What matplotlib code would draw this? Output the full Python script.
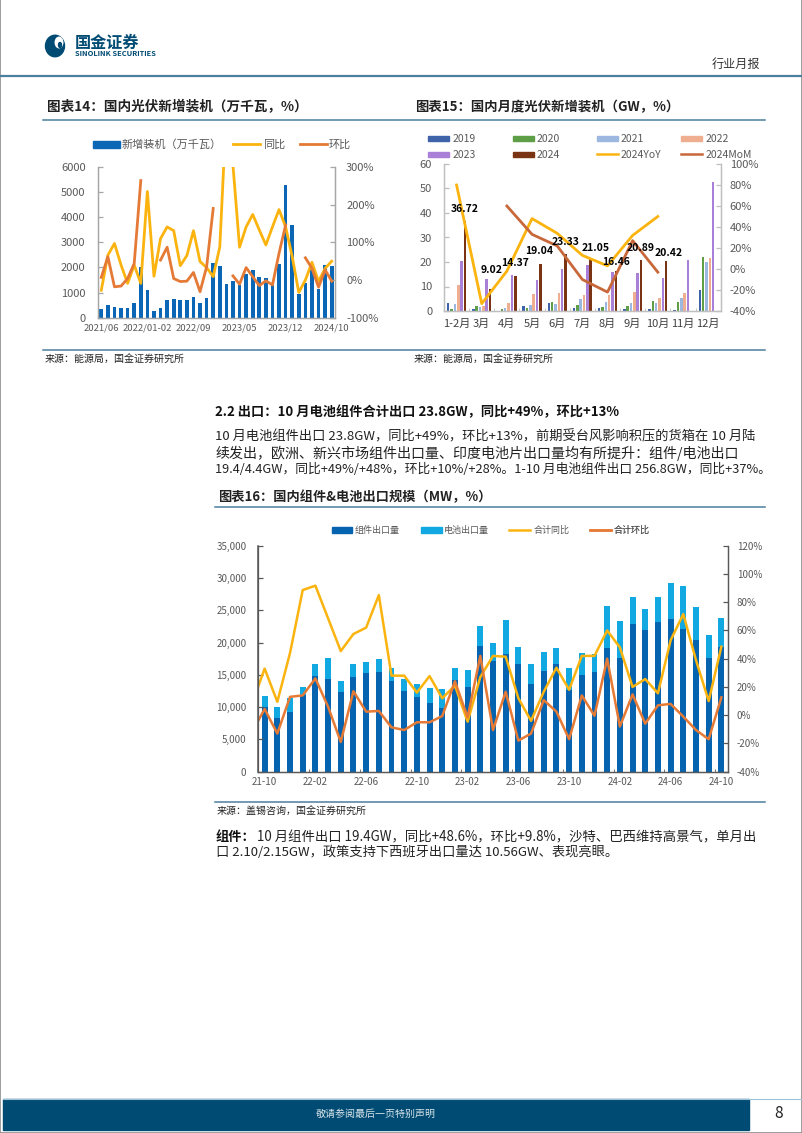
import numpy as np
import matplotlib as mpl; mpl.use('Agg')
import matplotlib.pyplot as plt
from matplotlib.patches import Rectangle, Ellipse, Patch
from matplotlib.lines import Line2D

plt.rcParams['font.family'] = ['Noto Sans CJK SC', 'DejaVu Sans']
plt.rcParams['axes.unicode_minus'] = False

W, H = 802, 1133
nan = np.nan

# 图表14
install_ticks = ['2021/06', '2022/01-02', '2022/09', '2023/05', '2023/12', '2024/10']
install_vals = [330, 520, 430, 370, 400, 580, 2030, 1100, 250, 390, 710, 750,
                710, 700, 830, 600, 780, 2180, 2060, 1350, 1480, 1300, 1750, 1890,
                1620, 1590, 1300, 2140, 5300, 3680, 930, 1400, 1950, 1150, 2090, 2060]
install_yoy = [-27, 66, 97, 40, -9, 40, -9, 235, 10, 110, 141, 131,
               38, 65, 131, 49, 33, 9, 88, 450, 305, 87, 141, 174,
               133, 93, 141, 187, 141, 62, -33, 0, 47, -4, 31, 50]
install_mom = [7, 62, -18, -16, 4, 44, 264, nan, nan, 53, 87, 4,
               -4, -3, 20, -31, 35, 190, nan, nan, 11, -11, 33, 9,
               -15, -2, -13, 71, 146, nan, nan, 59, 31, -19, 27, -3]

# 图表15
months = ['1-2月', '3月', '4月', '5月', '6月', '7月', '8月', '9月', '10月', '11月', '12月']
m2019 = [3.2, 1.0, 0.2, 2.2, 3.4, 1.4, 1.2, 1.0, 0.8, 0.5, 8.7]
m2020 = [0.7, 1.9, 0.8, 1.2, 3.8, 2.5, 1.8, 2.2, 3.9, 3.8, 22.2]
m2021 = [3.0, 1.8, 1.3, 2.6, 3.0, 4.7, 3.8, 3.2, 3.3, 5.2, 20.0]
m2022 = [10.7, 1.9, 3.4, 6.8, 7.2, 6.7, 6.6, 7.9, 5.5, 7.2, 21.5]
m2023 = [20.4, 13.2, 14.5, 12.8, 17.2, 18.7, 15.8, 15.6, 13.5, 21.0, 52.5]
m2024 = [36.72, 9.02, 14.37, 19.04, 23.33, 21.05, 16.46, 20.89, 20.42, nan, nan]
m2024_yoy = [80, -33, -2, 48, 34, 13, 3, 32, 50, nan, nan]
m2024_mom = [nan, nan, 60, 33, 22, -10, -22, 27, -3, nan, nan]

# 图表16 (第一个点是 21-09, 只露出线头)
export_ticks = ['21-10', '22-02', '22-06', '22-10', '23-02', '23-06', '23-10', '24-02', '24-06', '24-10']
module_vals = [10070, 8260, 9300, 11870, 14870, 14350, 12390, 14710, 15230, 15490,
               14040, 12490, 11620, 10690, 9860, 14200, 13160, 19510, 17190, 18170,
               16620, 13530, 15640, 16680, 12650, 14970, 15490, 19200, 17660, 22820,
               21890, 23130, 23700, 22040, 20440, 17660, 19360]
total_vals = [11700, 10070, 11460, 13060, 16620, 17550, 14090, 16620, 16930, 17450,
              16000, 14350, 13580, 12900, 12800, 16000, 15750, 22560, 19980, 23490,
              19260, 16680, 18480, 19200, 16000, 18330, 18170, 25660, 23390, 27000,
              25190, 27000, 29220, 28700, 25450, 21110, 23750]
export_yoy = [8, 33, 9.5, 44, 88.6, 91.7, 68.6, 45.4, 57.5, 62, 85, 28, 28, 16, 27.7, 12, 21,
              -4.6, 27, 42, 41.4, 12, -4, 16.6, 33.6, 18, 42, 42, 60, 48, 20, 25.6,
              15.5, 53, 71.6, 39, 10, 48.5]
export_mom = [-12, 4.4, -13, 13, 14, 26, 6, -19, 17, 2.5, 3, -8.6, -10.5, -5, -5, -0.6, 24,
              -1.5, 42, -10.5, 16.6, -18, -13, 10.7, 2.5, -17, 14, -0.4, 40, -8, 14.7, -6,
              7, 8, -1, -10.5, -17, 12.6]

NAVY = '#004B73'
RULE = '#4A7F9E'
BLUE = '#0B67B5'
YEL = '#FBB40F'
ORG = '#E57A36'
GREY = '#595959'

fig = plt.figure(figsize=(W / 100, H / 100), dpi=100)

# 整页像素坐标层
page = fig.add_axes([0, 0, 1, 1], zorder=5)
page.set_xlim(0, W)
page.set_ylim(H, 0)
page.axis('off')


def fw(s):
    # 标点换成全角
    return s.replace(',', '\uff0c').replace(':', '\uff1a').replace('(', '\uff08').replace(')', '\uff09')


def make_axes(l, t, r, b):
    return fig.add_axes([l / W, 1 - b / H, (r - l) / W, (b - t) / H])


def style_axes(ax, color, size, pad):
    for s in ax.spines.values():
        s.set_color(color)
        s.set_linewidth(0.9)
    ax.spines['top'].set_visible(False)
    ax.tick_params(axis='y', direction='in', length=3.5, width=0.9, color=color,
                   labelsize=size, labelcolor=GREY, pad=pad)
    ax.patch.set_alpha(0)


def legend_item(handle, label, x, y, hand_px, text_x, size, hh=0.7):
    # 每个图例项单独定位
    fpx = size * 100 / 72
    leg = page.legend([handle], [label], loc='center left', bbox_to_anchor=(x, y),
                      bbox_transform=page.transData, frameon=False, fontsize=size,
                      handlelength=hand_px / fpx, handletextpad=(text_x - x - hand_px) / fpx,
                      handleheight=hh, borderpad=0, borderaxespad=0, labelcolor=GREY)
    page.add_artist(leg)


def txt(x, y, s, size=9.5, color='#222222', **kw):
    kw.setdefault('va', 'center')
    page.text(x, y, fw(s), fontsize=size, color=color, **kw)


# ---------- 页眉页脚 ----------
page.plot([0, 0], [0, H], color='#8C8C8C', lw=1.2)
page.plot([W, W], [0, H], color='#8C8C8C', lw=1.2)
page.plot([0, W], [H - 0.5, H - 0.5], color='#8C8C8C', lw=1.2)
page.plot([0, W], [75.5, 75.5], color=RULE, lw=1.6)
page.add_patch(Ellipse((55, 46), 19, 21.5, color=NAVY))
page.add_patch(Ellipse((59, 42.5), 7.5, 10.5, color='white'))
page.add_patch(Ellipse((60, 45), 3, 5, color=NAVY))
txt(75, 43, '国金证券', size=11.6, color=NAVY, weight='bold')
txt(75, 54, 'SINOLINK SECURITIES', size=5.4, color=NAVY, weight='bold')
txt(712, 64.5, '行业月报', size=8.7, color='#333333')
page.add_patch(Rectangle((3, 1099), 746, 31, color=NAVY))
page.plot([3, W], [1099, 1099], color='#9CC3D5', lw=0.8)
txt(376, 1114, '敬请参阅最后一页特别声明', size=7.2, color='#D9E4EA', ha='center')
txt(779, 1114, '8', size=11, color='#222222', ha='center')

# ---------- 文字与分隔线 ----------
txt(47, 107, '图表14:国内光伏新增装机(万千瓦,%)', size=9.8, weight='bold')
txt(415, 107, '图表15:国内月度光伏新增装机(GW,%)', size=9.6, weight='bold')
page.plot([43, 765], [119.5, 119.5], color=RULE, lw=1.1)
page.plot([43, 765], [350, 350], color=RULE, lw=1.1)
txt(45, 360, '来源:能源局,国金证券研究所', size=7.2)
txt(414, 360, '来源:能源局,国金证券研究所', size=7.2)
txt(215, 412.5, '2.2 出口:10 月电池组件合计出口 23.8GW,同比+49%,环比+13%', size=9.5, weight='bold', color='#111111')
txt(215, 437, '10 月电池组件出口 23.8GW,同比+49%,环比+13%,前期受台风影响积压的货箱在 10 月陆', size=9.5)
txt(215, 453, '续发出,欧洲、新兴市场组件出口量、印度电池片出口量均有所提升:组件/电池出口', size=10.1)
txt(215, 469, '19.4/4.4GW,同比+49%/+48%,环比+10%/+28%。1-10 月电池组件出口 256.8GW,同比+37%。', size=9.2)
txt(218, 497, '图表16:国内组件&电池出口规模(MW,%)', size=9.5, weight='bold')
page.plot([215, 765], [507, 507], color=RULE, lw=1.1)
page.plot([215, 765], [802, 802], color=RULE, lw=1.1)
txt(217, 812, '来源:盖锡咨询,国金证券研究所', size=7.2)
txt(216, 837, '组件:', weight='bold', color='#111111')
txt(257, 837, '10 月组件出口 19.4GW,同比+48.6%,环比+9.8%,沙特、巴西维持高景气,单月出', size=9.6)
txt(216, 852, '口 2.10/2.15GW,政策支持下西班牙出口量达 10.56GW、表现亮眼。')

# ---------- 图表14 ----------
ax1 = make_axes(98, 167, 335, 317.7)
x1 = np.arange(len(install_vals))
ax1.bar(x1, install_vals, width=0.55, color=BLUE)
ax1.set_xlim(-0.5, len(x1) - 0.5)
ax1.set_ylim(0, 6000)
ax1.set_yticks(range(0, 6001, 1000))
style_axes(ax1, '#A6A6A6', 8, 9)
ax1.set_xticks(x1[::7], install_ticks)
ax1.tick_params(axis='x', length=0, labelsize=6.8, labelcolor=GREY, pad=4)
ax1b = ax1.twinx()
ax1b.plot(x1, install_yoy, color=YEL, lw=2)
ax1b.plot(x1, install_mom, color=ORG, lw=2)
ax1b.set_ylim(-100, 300)
ax1b.set_yticks(range(-100, 301, 100), [f'{v}%' for v in range(-100, 301, 100)])
style_axes(ax1b, '#A6A6A6', 8, 8)
legend_item(Patch(color=BLUE), fw('新增装机(万千瓦)'), 93, 145, 27, 122, 8)
legend_item(Line2D([], [], color=YEL, lw=2), '同比', 233, 145, 27, 263, 8)
legend_item(Line2D([], [], color=ORG, lw=2), '环比', 300, 145, 27, 329, 8)

# ---------- 图表15 ----------
ax2 = make_axes(444, 164, 720.7, 311)
x2 = np.arange(len(months))
year_vals = [m2019, m2020, m2021, m2022, m2023, m2024]
year_names = ['2019', '2020', '2021', '2022', '2023', '2024']
year_cols = ['#3F63A8', '#5E9E46', '#9DB8E0', '#F0AE90', '#A97FD8', '#7B3413']
for i, vals in enumerate(year_vals):
    ax2.bar(x2 + (i - 2.5) * 0.133, vals, width=0.1, color=year_cols[i])
ax2.set_xlim(-0.5, 10.5)
ax2.set_ylim(0, 60)
ax2.set_yticks(range(0, 61, 10))
style_axes(ax2, '#BFBFBF', 8, 8.5)
ax2.set_xticks(x2, months)
ax2.set_xticks(x2[:-1] + 0.5, minor=True)
ax2.tick_params(axis='x', which='major', length=0, labelsize=8, labelcolor='#404040', pad=6)
ax2.tick_params(axis='x', which='minor', direction='in', length=2.5, color='#BFBFBF')
ax2b = ax2.twinx()
ax2b.plot(x2, m2024_yoy, color=YEL, lw=2)
ax2b.plot(x2, m2024_mom, color='#C8683A', lw=2)
ax2b.set_ylim(-40, 100)
ax2b.set_yticks(range(-40, 101, 20), [f'{v}%' for v in range(-40, 101, 20)])
style_axes(ax2b, '#BFBFBF', 8, 6.5)
# 数据标签偏移 (pt)
label_off = [(0, 9), (1, 13.5), (0, 9), (-1, 9.5), (0, 8.5), (3.5, 8), (0, 6.5), (0, 8.5), (1.5, 6)]
for k, off in enumerate(label_off):
    ax2b.annotate(f'{m2024[k]:.2f}', xy=(k + 2.5 * 0.133, m2024[k]), xycoords=ax2.transData,
                  xytext=off, textcoords='offset points', ha='center', va='center',
                  fontsize=7.5, weight='bold', color='black')
for i, (col_x, col_t) in enumerate(zip([428, 513, 597, 681], [453, 537, 621, 706])):
    legend_item(Patch(color=year_cols[i]), year_names[i], col_x, 139, 21, col_t, 7.5, hh=0.42)
legend_item(Patch(color=year_cols[4]), year_names[4], 428, 155, 21, 453, 7.5, hh=0.42)
legend_item(Patch(color=year_cols[5]), year_names[5], 513, 155, 21, 537, 7.5, hh=0.42)
legend_item(Line2D([], [], color=YEL, lw=1.8), '2024YoY', 597, 155, 21, 621, 7.5)
legend_item(Line2D([], [], color='#C8683A', lw=1.8), '2024MoM', 681, 155, 21, 706, 7.5)

# ---------- 图表16 ----------
ax3 = make_axes(258.3, 545.7, 727.7, 771.7)
x3 = np.arange(len(module_vals))
cell_vals = np.array(total_vals) - np.array(module_vals)
ax3.bar(x3, module_vals, width=0.47, color='#0563AF')
ax3.bar(x3, cell_vals, bottom=module_vals, width=0.47, color='#12A9E2')
ax3.set_xlim(-0.5, len(x3) - 0.5)
ax3.set_ylim(0, 35000)
ax3.set_yticks(range(0, 35001, 5000), [f'{v:,}' for v in range(0, 35001, 5000)])
style_axes(ax3, '#595959', 7, 8.5)
ax3.spines['left'].set_linewidth(1.1)
ax3.set_xticks(x3[::4], export_ticks)
ax3.set_xticks(x3[3::4] + 0.5, minor=True)
ax3.tick_params(axis='x', which='major', length=0, labelsize=7, labelcolor=GREY, pad=4)
ax3.tick_params(axis='x', which='minor', direction='in', length=2, color='#595959')
ax3b = ax3.twinx()
x3b = np.arange(-1, len(module_vals))
ax3b.plot(x3b, export_yoy, color=YEL, lw=1.8)
ax3b.plot(x3b, export_mom, color=ORG, lw=1.8)
ax3b.set_ylim(-40, 120)
ax3b.set_yticks(range(-40, 121, 20), [f'{v}%' for v in range(-40, 121, 20)])
style_axes(ax3b, '#595959', 7, 6.5)
legend_item(Patch(color='#0563AF'), '组件出口量', 331.7, 530.7, 20.5, 355, 6.5, hh=0.6)
legend_item(Patch(color='#12A9E2'), '电池出口量', 421, 530.7, 20.5, 444, 6.5, hh=0.6)
legend_item(Line2D([], [], color=YEL, lw=1.8), '合计同比', 509.3, 530.7, 20.5, 534, 6.5)
legend_item(Line2D([], [], color=ORG, lw=1.8), '合计环比', 590, 530.7, 20.5, 614, 6.5)

fig.savefig('out.png', dpi=100)
